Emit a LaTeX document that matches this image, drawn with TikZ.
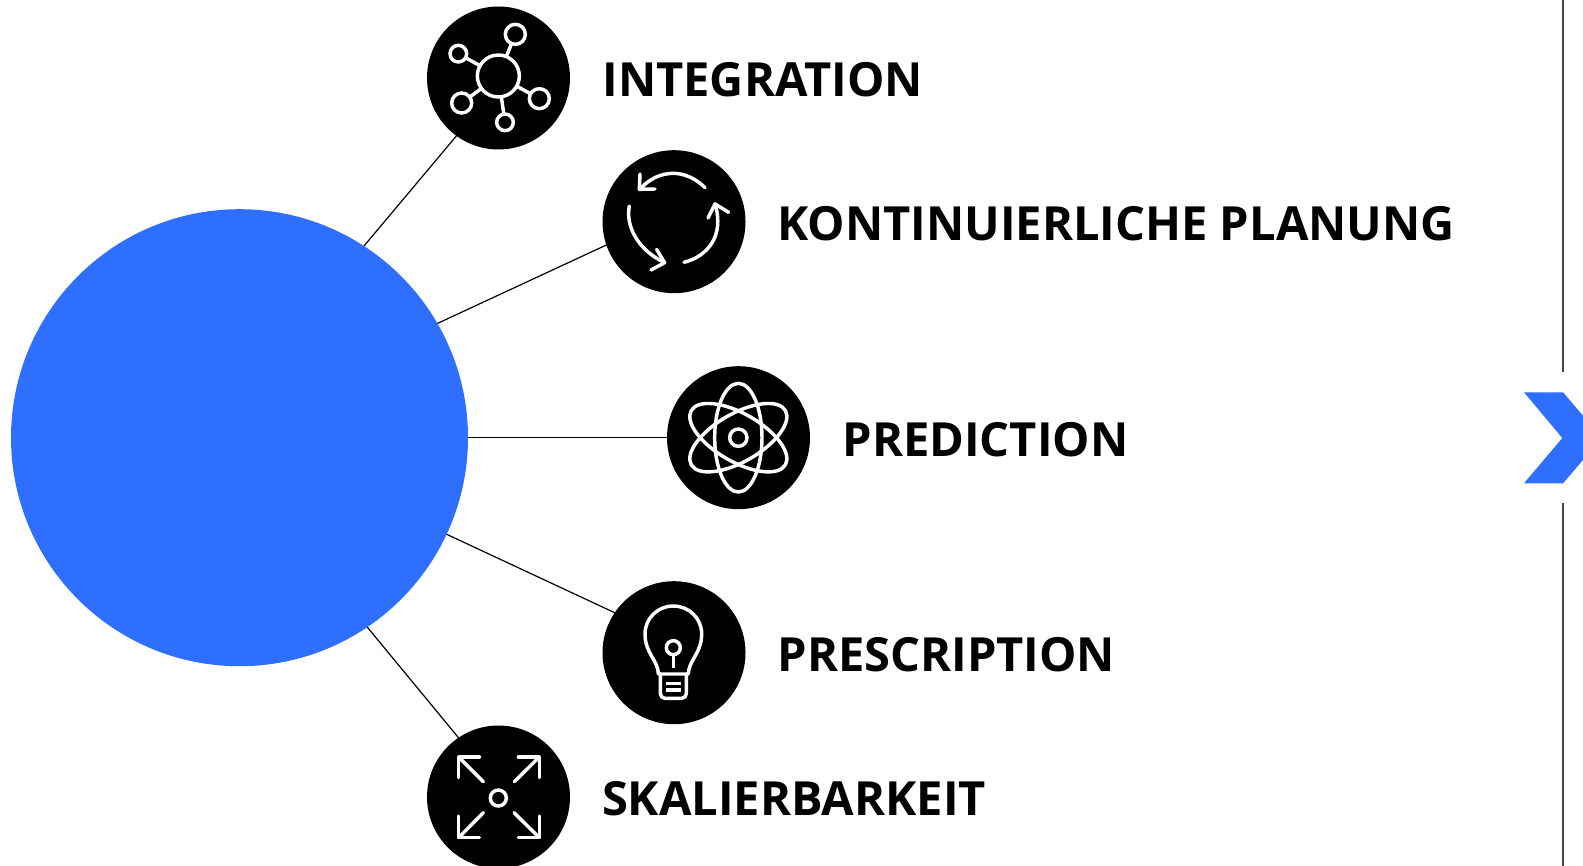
\documentclass[tikz,border=0pt]{standalone}
\usepackage{fontspec}
\setmainfont{Open Sans}[BoldFont={Open Sans Bold}]
\definecolor{bigblue}{HTML}{2F6FFF}
\definecolor{rulegray}{HTML}{444444}
\tikzset{
  iconbg/.style={circle,fill=black,draw=none,inner sep=0pt,outer sep=0pt,minimum size=107.25pt},
  bigdisc/.style={circle,fill=bigblue,draw=none,inner sep=0pt,outer sep=0pt,minimum size=342.75pt},
  link/.style={draw=black,line width=0.9pt},
  lab/.style={anchor=base west,inner sep=0pt,outer sep=0pt,font=\fontsize{35.3pt}{41pt}\selectfont\bfseries,text=black},
  ico/.style={draw=white,line width=2.6pt,line cap=round,line join=round},
  ring/.style={circle,draw=white,line width=2.6pt,inner sep=0pt,outer sep=0pt},
  rulev/.style={draw=rulegray,line width=1.3pt},
}
\begin{document}
\begin{tikzpicture}[x=0.75pt,y=-0.75pt]
\useasboundingbox (0,0) rectangle (1583,866);
\fill[white] (0,0) rectangle (1583,866);
% rules and chevron
\draw[rulev] (1563,0) -- (1563,372);
\draw[rulev] (1563,503) -- (1563,866);
\fill[bigblue] (1524,392.3) -- (1563,392.3) -- (1583,415.7) -- (1583,460) -- (1563,483.3) -- (1524,483.3) -- (1562.3,438) -- cycle;
% main shapes
\node[bigdisc] (big) at (239.5,437.7) {};
\node[iconbg] (i1) at (498.5,78) {};
\node[iconbg] (i2) at (674,221.7) {};
\node[iconbg] (i3) at (738.5,437.7) {};
\node[iconbg] (i4) at (674,652.7) {};
\node[iconbg] (i5) at (498.5,797) {};
% connectors
\draw[link] (big.57.3) -- (i1.234.7);
\draw[link] (big.30.4) -- (i2.199.6);
\draw[link] (big.0) -- (i3.180);
\draw[link] (big.-25.7) -- (i4.146.7);
\draw[link] (big.-56.6) -- (i5.124.3);
% labels
\node[lab] (t1) at (602.5,96.5) {INTEGRATION};
\node[lab] (t2) at (777.5,240) {KONTINUIERLICHE PLANUNG};
\node[lab] (t3) at (842.5,456) {PREDICTION};
\node[lab] (t4) at (777.5,671) {PRESCRIPTION};
\node[lab] (t5) at (602,815) {SKALIERBARKEIT};
% network icon
\begin{scope}[shift={(410,0)},x=0.25pt,y=-0.25pt]
  \node[ring,minimum size=31.5pt] (hub) at (265,228) {};
  \node[ring,minimum size=15pt] (s1) at (316,103) {};
  \node[ring,minimum size=12.5pt] (s2) at (145,161) {};
  \node[ring,minimum size=15pt] (s3) at (155,309) {};
  \node[ring,minimum size=15pt] (s4) at (388,296) {};
  \node[ring,minimum size=12.5pt] (s5) at (285,367) {};
  \foreach \s in {s1,s2,s3,s4,s5} \draw[ico,line cap=butt] (hub) -- (\s);
\end{scope}
% cycle icon
\begin{scope}[shift={(410,0)},x=0.25pt,y=-0.25pt]
  \draw[ico] (885,563) .. controls (855,533) and (820,520) .. (790,520) .. controls (755,520) and (720,535) .. (692,565);
  \draw[ico] (690,522) -- (688,568) -- (735,567);
  \draw[ico] (658,618) .. controls (646,680) and (685,750) .. (762,787);
  \draw[ico] (740,748) -- (764,788) -- (723,810);
  \draw[ico] (822,787) .. controls (890,770) and (945,710) .. (915,612);
  \draw[ico] (894,654) -- (915,612) -- (956,637);
\end{scope}
% atom icon
\begin{scope}[shift={(650,350)},x=0.25pt,y=-0.25pt]
  \draw[ico] (265,263) ellipse [x radius=71,y radius=163];
  \draw[ico] (265,263) ellipse [x radius=163,y radius=72,rotate=30];
  \draw[ico] (265,263) ellipse [x radius=163,y radius=72,rotate=-30];
  \node[ring,minimum size=13pt] (core) at (265,263) {};
\end{scope}
% bulb icon
\begin{scope}[shift={(410,570)},x=0.25pt,y=-0.25pt]
  \draw[ico] (745,312) .. controls (745,272) and (705,250) .. (705,192) .. controls (705,145) and (743,108) .. (790,108) .. controls (837,108) and (875,145) .. (875,192) .. controls (875,250) and (835,272) .. (835,312) -- cycle;
  \draw[ico,rounded corners=3.5pt] (751,312) -- (751,385) -- (829,385) -- (829,312);
  \draw[ico,line cap=butt] (768,340) -- (812,340);
  \draw[ico,line cap=butt] (768,360) -- (812,360);
  \node[ring,minimum size=10.5pt] (fil) at (790,233) {};
  \draw[ico,line cap=butt] (fil) -- (790,295);
\end{scope}
% scale icon
\begin{scope}[shift={(410,570)},x=0.25pt,y=-0.25pt]
  \node[ring,minimum size=12pt] (sc) at (265,684) {};
  \draw[ico] (208,561) -- (146,561) -- (146,623);
  \draw[ico] (146,561) -- (220,635);
  \draw[ico] (325,561) -- (388,561) -- (388,623);
  \draw[ico] (388,561) -- (313,635);
  \draw[ico] (208,803) -- (146,803) -- (146,738);
  \draw[ico] (146,803) -- (220,728);
  \draw[ico] (325,803) -- (388,803) -- (388,738);
  \draw[ico] (388,803) -- (312,728);
\end{scope}
\end{tikzpicture}
\end{document}
